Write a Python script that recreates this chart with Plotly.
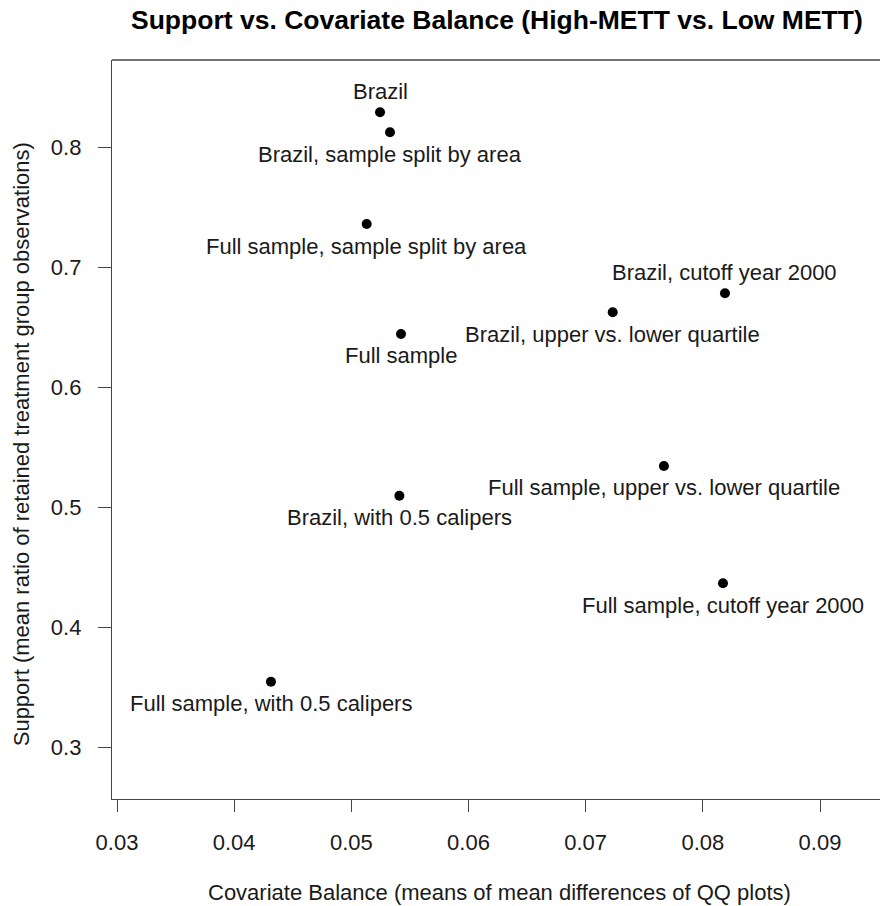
import plotly.graph_objects as go

# Covariate balance (x) vs. support (y) for each matching specification
labels = [
    "Brazil",
    "Brazil, sample split by area",
    "Full sample, sample split by area",
    "Brazil, cutoff year 2000",
    "Brazil, upper vs. lower quartile",
    "Full sample",
    "Full sample, upper vs. lower quartile",
    "Brazil, with 0.5 calipers",
    "Full sample, cutoff year 2000",
    "Full sample, with 0.5 calipers",
]
balance = [0.05245, 0.05330, 0.05131, 0.08189, 0.07231,
           0.05424, 0.07668, 0.05410, 0.08172, 0.04314]
support = [0.8289, 0.8123, 0.7358, 0.6781, 0.6623,
           0.6442, 0.5342, 0.5094, 0.4364, 0.3544]
# label placement relative to the point: "above" or "below"
label_side = ["above", "below", "below", "above", "below",
              "below", "below", "below", "below", "below"]

x_ticks = [0.03, 0.04, 0.05, 0.06, 0.07, 0.08, 0.09]
y_ticks = [0.3, 0.4, 0.5, 0.6, 0.7, 0.8]

FONT = "Liberation Sans, Arial, Helvetica, sans-serif"
AXIS_COLOR = "#444444"

fig = go.Figure()
fig.add_trace(go.Scatter(
    x=balance, y=support, mode="markers",
    marker=dict(size=10, color="black"),
    hoverinfo="text", hovertext=labels, showlegend=False,
))

annotations = []
for lx, ly, txt, side in zip(balance, support, labels, label_side):
    annotations.append(dict(
        x=lx, y=ly, xref="x", yref="y", text=txt, showarrow=False,
        xanchor="center", yanchor="middle",
        yshift=21 if side == "above" else -22,
        font=dict(family=FONT, size=22, color="#1a1a1a"),
    ))

# main title
annotations.append(dict(
    x=0.5013, y=1, xref="paper", yref="paper", yshift=40,
    text="<b>Support vs. Covariate Balance (High-METT vs. Low METT)</b>",
    showarrow=False, xanchor="center", yanchor="middle",
    font=dict(family=FONT, size=26.5, color="black"),
))
# axis titles
annotations.append(dict(
    x=0.504, y=0, xref="paper", yref="paper", yshift=-93,
    text="Covariate Balance (means of mean differences of QQ plots)",
    showarrow=False, xanchor="center", yanchor="middle",
    font=dict(family=FONT, size=22, color="#1a1a1a"),
))
annotations.append(dict(
    x=-0.1185, y=0.48, xref="paper", yref="paper", textangle=-90,
    text="Support (mean ratio of retained treatment group observations)",
    showarrow=False, xanchor="center", yanchor="middle",
    font=dict(family=FONT, size=22, color="#1a1a1a"),
))

axis_common = dict(
    showgrid=False, zeroline=False, showline=True, linecolor=AXIS_COLOR,
    linewidth=1.3, ticks="outside", tickcolor=AXIS_COLOR, tickwidth=1.3,
    tickfont=dict(family=FONT, size=22, color="#1a1a1a"), mirror=False,
)

fig.update_layout(
    width=880, height=906,
    margin=dict(l=112, r=0, t=60, b=107),
    paper_bgcolor="white", plot_bgcolor="white",
    xaxis=dict(range=[0.029573, 0.095121], tickvals=x_ticks,
               ticktext=[f"{v:.2f}" for v in x_ticks], ticklen=12,
               ticklabelstandoff=11, **axis_common),
    yaxis=dict(range=[0.25667, 0.8725], tickvals=y_ticks,
               ticktext=[f"{v:.1f}" for v in y_ticks], ticklen=13,
               ticklabelstandoff=12, **axis_common),
    annotations=annotations,
    shapes=[dict(type="line", xref="paper", yref="paper", x0=0, x1=1.01,
                 y0=1, y1=1, line=dict(color=AXIS_COLOR, width=1.3))],
    font=dict(family=FONT),
)

fig.write_html("out.html")
